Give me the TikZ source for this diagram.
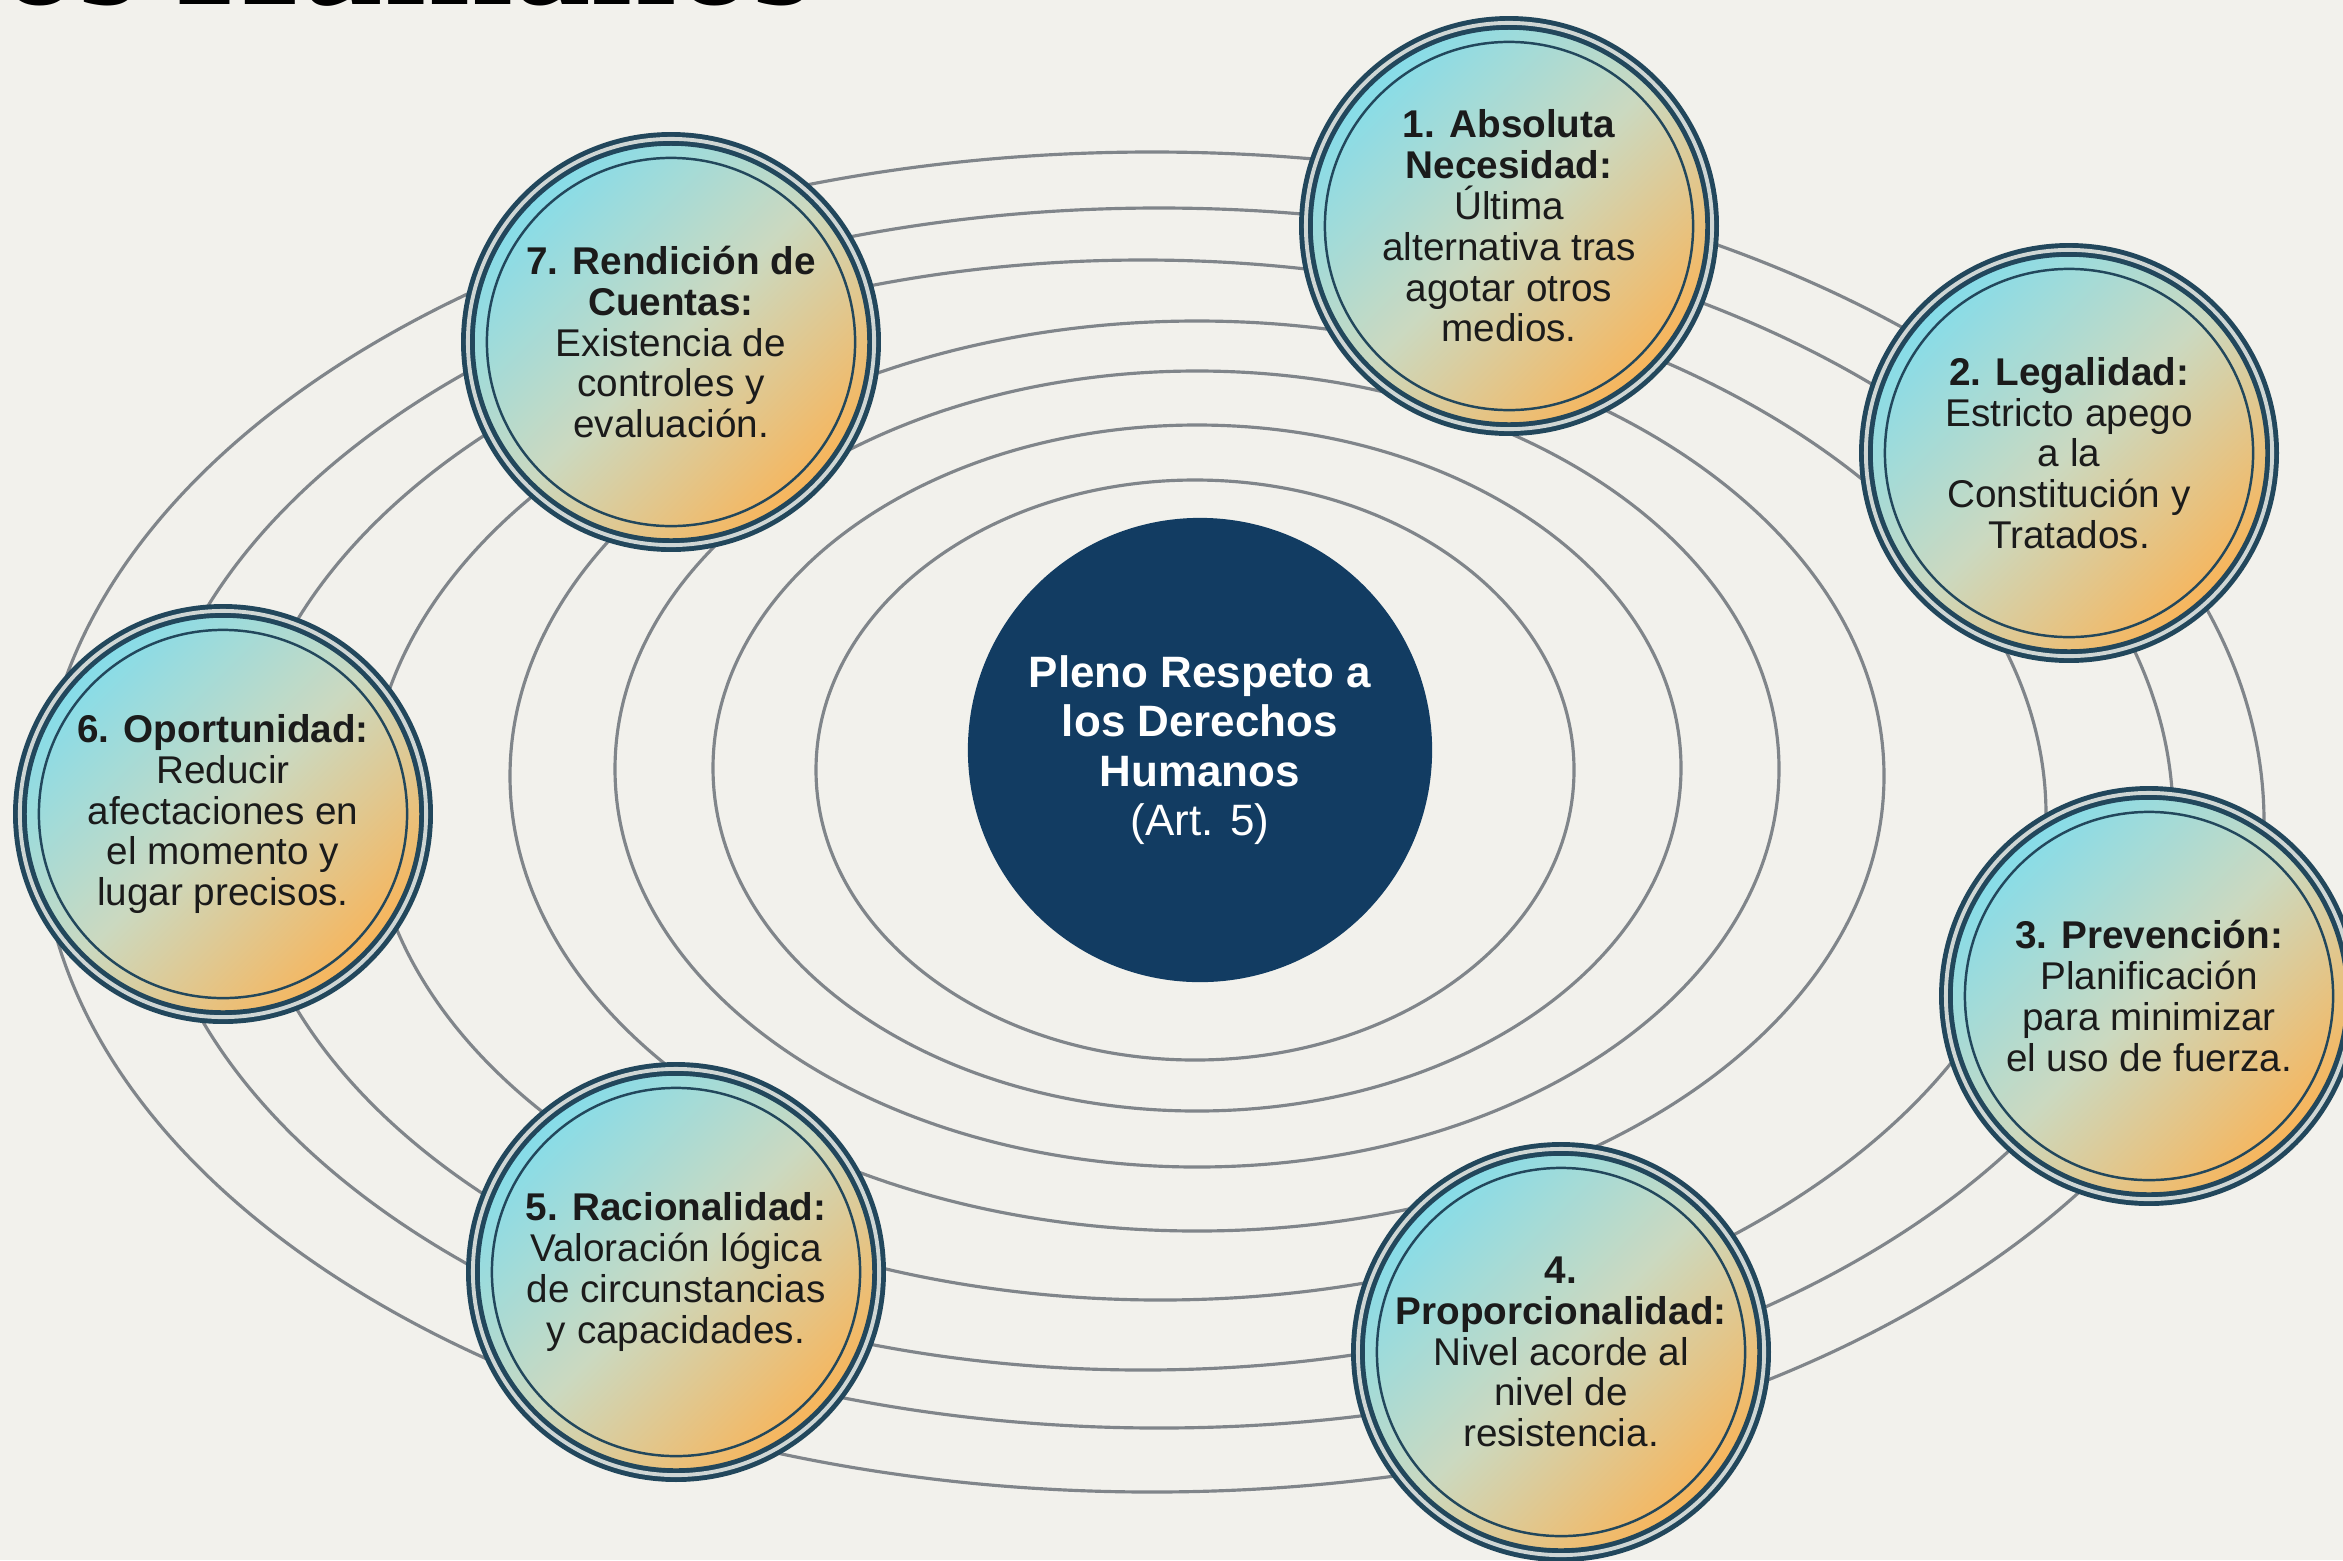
\documentclass[tikz,border=0pt]{standalone}
\usepackage{xcolor}
\usepackage{fontspec}
\setmainfont{Liberation Sans}
\newfontfamily\titlefont{Liberation Serif}
\usepackage{tikz}

\definecolor{fondo}{HTML}{F2F1EC}
\definecolor{anillo}{HTML}{80858A}
\definecolor{marino}{HTML}{123C62}
\definecolor{borde}{HTML}{22475C}
\definecolor{bordeclaro}{HTML}{CFD6D4}
\definecolor{cian}{HTML}{84DCEA}
\definecolor{medio}{HTML}{CBD9C0}
\definecolor{naranja}{HTML}{F8B459}
\definecolor{texto}{HTML}{1B1B1B}

\begin{document}
\begin{tikzpicture}[x=0.01cm, y=-0.01cm,
     ring/.style={anillo, line width=0.9pt},
     principio/.style={circle, inner sep=0pt, minimum size=4.06cm, align=center,
          text=texto, font=\fontsize{11}{11.6}\selectfont,
          top color=cian, bottom color=naranja, middle color=medio, shading angle=45,
          draw=borde, line width=1.4pt, double=bordeclaro, double distance=1.1pt,
          path picture={\draw[borde, line width=0.7pt] (path picture bounding box.center) circle (1.84cm);}},
     nucleo/.style={circle, inner sep=0pt, minimum size=4.64cm, fill=marino, align=center,
          text=white, font=\fontsize{12.5}{14}\selectfont}]
     \useasboundingbox (0,0) rectangle (2343,1560);
     \clip (0,0) rectangle (2343,1560);
     \fill[fondo] (0,0) rectangle (2343,1560);

     % titulo cortado arriba
     \node[anchor=base east, inner sep=0pt, font=\titlefont\bfseries\fontsize{44}{44}\selectfont] (titulo) at (815,4) {Derechos Humanos};

     % orbitas
     \draw[ring] (1195,770) ellipse (379 and 290);
     \draw[ring] (1197,768) ellipse (484 and 343);
     \draw[ring] (1197,769) ellipse (582 and 398);
     \draw[ring] (1197,776) ellipse (687 and 455);
     \draw[ring] (1160,800) ++(225:790 and 500) arc [start angle=225, end angle=60, x radius=790, y radius=500];
     \draw[ring] (1143,815) ellipse (903 and 555);
     \draw[ring] (1159,818) ellipse (1014 and 610);
     \draw[ring] (1152,822) ellipse (1112 and 670);

     \node[nucleo] (centro) at (1200,750) {\textbf{Pleno Respeto a}\\\textbf{los Derechos}\\\textbf{Humanos}\\(Art. 5)};

     \node[principio] (p1) at (1509,226) {\textbf{1. Absoluta}\\\textbf{Necesidad:}\\Última\\alternativa tras\\agotar otros\\medios.};
     \node[principio] (p2) at (2069,453) {\textbf{2. Legalidad:}\\Estricto apego\\a la\\Constitución y\\Tratados.};
     \node[principio] (p3) at (2149,996) {\textbf{3. Prevención:}\\Planificación\\para minimizar\\el uso de fuerza.};
     \node[principio] (p4) at (1561,1352) {\textbf{4.}\\\textbf{Proporcionalidad:}\\Nivel acorde al\\nivel de\\resistencia.};
     \node[principio] (p5) at (676,1272) {\textbf{5. Racionalidad:}\\Valoración lógica\\de circunstancias\\y capacidades.};
     \node[principio] (p6) at (223,814) {\textbf{6. Oportunidad:}\\Reducir\\afectaciones en\\el momento y\\lugar precisos.};
     \node[principio] (p7) at (671,342) {\textbf{7. Rendición de}\\\textbf{Cuentas:}\\Existencia de\\controles y\\evaluación.};
\end{tikzpicture}
\end{document}
